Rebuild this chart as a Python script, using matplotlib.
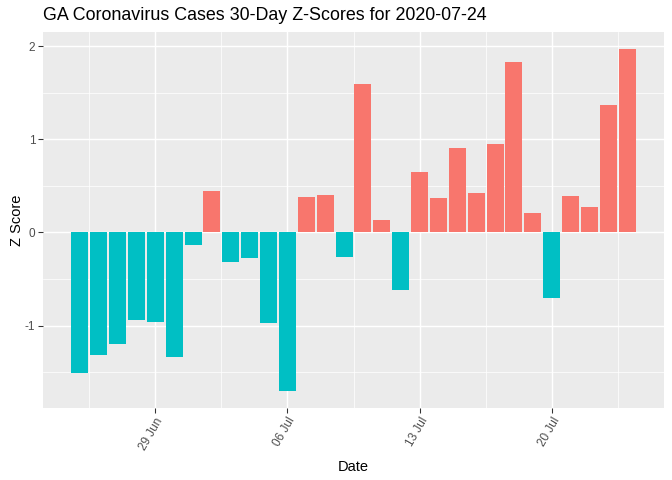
import matplotlib
matplotlib.use("Agg")
import matplotlib.pyplot as plt
import matplotlib.dates as mdates
import numpy as np
import pandas as pd

plt.rcParams['font.family'] = ['Liberation Sans', 'DejaVu Sans']

start_date = "2020-06-25"
z_scores = [-1.51, -1.31, -1.20, -0.94, -0.965, -1.34, -0.135, 0.45,
            -0.316, -0.273, -0.975, -1.70, 0.38, 0.40, -0.262, 1.59,
            0.129, -0.613, 0.645, 0.366, 0.903, 0.419, 0.946, 1.828,
            0.204, -0.699, 0.387, 0.27, 1.366, 1.968]
tick_dates = ["2020-06-29", "2020-07-06", "2020-07-13", "2020-07-20"]
tick_labels = ["29 Jun", "06 Jul", "13 Jul", "20 Jul"]
title = "GA Coronavirus Cases 30-Day Z-Scores for 2020-07-24"

dates = pd.date_range(start_date, periods=len(z_scores), freq="D")
x = mdates.date2num(dates)
z = np.array(z_scores)
colors = np.where(z < 0, "#00BFC4", "#F8766D")

fig = plt.figure(figsize=(7, 5), dpi=96)
ax = fig.add_axes([43/672, 1-408/480, (664-43)/672, (408-32)/480])
ax.set_facecolor("#EBEBEB")

# limits with ggplot-like expansion
xmin, xmax = x.min() - 0.45, x.max() + 0.45
xe = (xmax - xmin) * 0.05
ax.set_xlim(xmin - xe, xmax + xe)
ymin, ymax = min(z.min(), 0), max(z.max(), 0)
ye = (ymax - ymin) * 0.05
ax.set_ylim(ymin - ye, ymax + ye)

major_x = mdates.date2num(pd.to_datetime(tick_dates))
minor_x = np.concatenate([[major_x[0] - 3.5], major_x + 3.5])
ax.set_xticks(major_x)
ax.set_xticklabels(tick_labels)
ax.set_xticks(minor_x, minor=True)
ax.set_yticks([-1, 0, 1, 2])
ax.set_yticklabels(["-1", "0", "1", "2"])
ax.set_yticks([-1.5, -0.5, 0.5, 1.5], minor=True)

ax.grid(which="major", color="white", linewidth=1.1)
ax.grid(which="minor", color="white", linewidth=0.55)
ax.set_axisbelow(True)

ax.bar(x, z, width=0.9, color=colors, zorder=3)

for s in ax.spines.values():
    s.set_visible(False)

ax.tick_params(which="major", length=3.7, width=0.8, color="#333333",
               labelsize=8.8, labelcolor="#4D4D4D", pad=2.0)
ax.tick_params(which="minor", length=0)
for lab in ax.get_xticklabels():
    lab.set_rotation(60)
    lab.set_ha("right")
    lab.set_va("top")
    lab.set_rotation_mode("anchor")

ax.set_xlabel("Date", fontsize=11, color="black", labelpad=6)
ax.set_ylabel("Z Score", fontsize=11, color="black", labelpad=1)
fig.text(43/672, 1-16/480, title, fontsize=13.4, color="black",
         ha="left", va="center")

fig.savefig("out.png", dpi=96)
